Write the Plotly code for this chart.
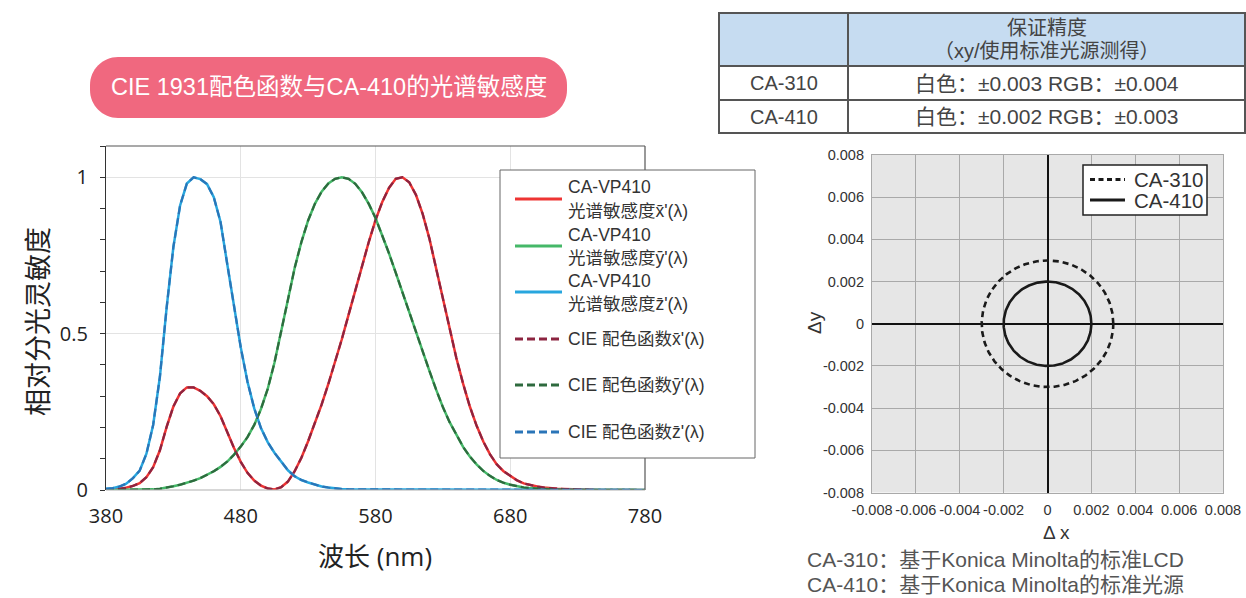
import numpy as np
import plotly.graph_objects as go

W, H = 1246, 598

# ---------------- data ----------------
wavelength = list(range(380, 785, 5))

cie_x = [0.001, 0.002, 0.004, 0.007, 0.013, 0.022, 0.041, 0.073, 0.127, 0.202,
         0.267, 0.309, 0.328, 0.328, 0.317, 0.300, 0.274, 0.236, 0.184, 0.134,
         0.090, 0.055, 0.030, 0.014, 0.005, 0.002, 0.009, 0.027, 0.060, 0.103,
         0.156, 0.213, 0.273, 0.339, 0.408, 0.482, 0.560, 0.639, 0.717, 0.793,
         0.863, 0.921, 0.966, 0.995, 1.000, 0.984, 0.944, 0.883, 0.804, 0.707,
         0.605, 0.510, 0.422, 0.340, 0.267, 0.206, 0.155, 0.114, 0.082, 0.060,
         0.044, 0.031, 0.021, 0.015, 0.011, 0.008, 0.005, 0.004, 0.003, 0.002,
         0.001, 0.001, 0.001, 0.000, 0.000, 0.000, 0.000, 0.000, 0.000, 0.000,
         0.000]

cie_y = [0.000, 0.000, 0.000, 0.000, 0.000, 0.001, 0.001, 0.002, 0.004, 0.007,
         0.012, 0.017, 0.023, 0.030, 0.038, 0.048, 0.060, 0.074, 0.091, 0.113,
         0.139, 0.169, 0.208, 0.259, 0.323, 0.407, 0.503, 0.608, 0.710, 0.793,
         0.862, 0.915, 0.954, 0.980, 0.995, 1.000, 0.995, 0.979, 0.952, 0.915,
         0.870, 0.816, 0.757, 0.695, 0.631, 0.567, 0.503, 0.441, 0.381, 0.321,
         0.265, 0.217, 0.175, 0.138, 0.107, 0.082, 0.061, 0.045, 0.032, 0.023,
         0.017, 0.012, 0.008, 0.006, 0.004, 0.003, 0.002, 0.001, 0.001, 0.001,
         0.001, 0.000, 0.000, 0.000, 0.000, 0.000, 0.000, 0.000, 0.000, 0.000,
         0.000]

cie_z = [0.004, 0.006, 0.011, 0.020, 0.038, 0.062, 0.116, 0.208, 0.362, 0.583,
         0.777, 0.910, 0.980, 1.000, 0.994, 0.978, 0.936, 0.857, 0.722, 0.584,
         0.456, 0.346, 0.261, 0.198, 0.153, 0.119, 0.089, 0.063, 0.044, 0.032,
         0.024, 0.017, 0.011, 0.008, 0.005, 0.003, 0.002, 0.002, 0.001, 0.001,
         0.001, 0.001, 0.001, 0.001, 0.000, 0.000, 0.000, 0.000, 0.000, 0.000,
         0.000, 0.000, 0.000, 0.000, 0.000, 0.000, 0.000, 0.000, 0.000, 0.000,
         0.000, 0.000, 0.000, 0.000, 0.000, 0.000, 0.000, 0.000, 0.000, 0.000,
         0.000, 0.000, 0.000, 0.000, 0.000, 0.000, 0.000, 0.000, 0.000, 0.000,
         0.000]

# CA-VP410 measured sensitivities coincide with the CIE curves in the picture
vp410_x = list(cie_x)
vp410_y = list(cie_y)
vp410_z = list(cie_z)

spectral_names = [
    ["CA-VP410", "光谱敏感度x\u0304'(λ)"],
    ["CA-VP410", "光谱敏感度y\u0304'(λ)"],
    ["CA-VP410", "光谱敏感度z\u0304'(λ)"],
    ["CIE 配色函数x\u0304'(λ)"],
    ["CIE 配色函数y\u0304'(λ)"],
    ["CIE 配色函数z\u0304'(λ)"],
]
spectral_colors = ["#ee3433", "#45b868", "#27a6de", "#8c2440", "#2e6a3e", "#2a75b8"]
spectral_dash = ["solid", "solid", "solid", "8px,4px", "8px,4px", "8px,4px"]

wl_ticks = [380, 480, 580, 680, 780]
sens_ticks = [0, 0.5, 1]
sens_ticktext = ["0", "0.5", "1"]

accuracy_models = ["CA-310", "CA-410"]
accuracy_radius = [0.003, 0.002]
accuracy_dash = ["6px,4px", "solid"]

delta_ticks = [-0.008, -0.006, -0.004, -0.002, 0, 0.002, 0.004, 0.006, 0.008]
delta_ticktext = ["-0.008", "-0.006", "-0.004", "-0.002", "0", "0.002", "0.004", "0.006", "0.008"]

table_header = ["", "保证精度", "（xy/使用标准光源测得）"]
table_models = ["CA-310", "CA-410"]
table_values = ["白色：±0.003 RGB：±0.004", "白色：±0.002 RGB：±0.003"]

title_text = "CIE 1931配色函数与CA-410的光谱敏感度"
footnotes = ["CA-310：基于Konica Minolta的标准LCD", "CA-410：基于Konica Minolta的标准光源"]

# ---------------- helpers ----------------
def PX(px):
    return px / W

def PY(py):
    return 1 - py / H

CJK = "Noto Sans CJK SC"
SANS = "Liberation Sans, Arial, " + CJK
OPEN = "Open Sans, " + CJK

fig = go.Figure()

# spectral curves: solid first, dashed on top
series = [vp410_x, vp410_y, vp410_z, cie_x, cie_y, cie_z]
for vals, col, dash, nm in zip(series, spectral_colors, spectral_dash, spectral_names):
    fig.add_trace(go.Scatter(
        x=wavelength, y=vals, mode="lines", name=" ".join(nm),
        line=dict(color=col, width=2.5 if dash == "solid" else 2.2, dash=dash),
        showlegend=False, xaxis="x", yaxis="y", hoverinfo="skip"))

# accuracy circles
theta = np.linspace(0, 2 * np.pi, 361)
for nm, r, dash in zip(accuracy_models, accuracy_radius, accuracy_dash):
    fig.add_trace(go.Scatter(
        x=r * np.cos(theta), y=r * np.sin(theta), mode="lines", name=nm,
        line=dict(color="#1a1a1a", width=2.6, dash=dash),
        showlegend=False, xaxis="x2", yaxis="y2", hoverinfo="skip"))

shapes = []
annotations = []

# right chart grey background
shapes.append(dict(type="rect", xref="x2 domain", yref="y2 domain", x0=0, x1=1, y0=0, y1=1,
                   fillcolor="#e6e6e6", line=dict(width=0), layer="below"))

# left chart frame (top/right dark, bottom light)
shapes.append(dict(type="line", xref="x domain", yref="y domain", x0=0, x1=1, y0=1, y1=1,
                   line=dict(color="#555555", width=1.2)))
shapes.append(dict(type="line", xref="x domain", yref="y domain", x0=1, x1=1, y0=0, y1=1,
                   line=dict(color="#555555", width=1.2)))
shapes.append(dict(type="line", xref="x domain", yref="y domain", x0=0, x1=1, y0=0, y1=0,
                   line=dict(color="#b0b0b0", width=1.2)))

# title pill (pixel-sized path centred on anchor)
hw, hh, r = 238.5, 30.5, 28
k = r * 0.552
pill = (f"M {-hw + r},{-hh} L {hw - r},{-hh} C {hw - r + k},{-hh} {hw},{-hh + r - k} {hw},{-hh + r} "
        f"L {hw},{hh - r} C {hw},{hh - r + k} {hw - r + k},{hh} {hw - r},{hh} "
        f"L {-hw + r},{hh} C {-hw + r - k},{hh} {-hw},{hh - r + k} {-hw},{hh - r} "
        f"L {-hw},{-hh + r} C {-hw},{-hh + r - k} {-hw + r - k},{-hh} {-hw + r},{-hh} Z")
shapes.append(dict(type="path", xref="paper", yref="paper", xsizemode="pixel", ysizemode="pixel",
                   xanchor=PX(328.5), yanchor=PY(87.5), path=pill,
                   fillcolor="#f0687f", line=dict(width=0)))
annotations.append(dict(x=PX(329), y=PY(87), xref="paper", yref="paper", text=title_text,
                        showarrow=False, font=dict(family=SANS, size=23.5, color="white"),
                        xanchor="center", yanchor="middle"))

# left manual legend
lx0, lx1, ly0, ly1 = 500, 755, 170, 458
shapes.append(dict(type="rect", xref="paper", yref="paper", x0=PX(lx0), x1=PX(lx1),
                   y0=PY(ly1), y1=PY(ly0), fillcolor="white", line=dict(color="#666666", width=1)))
line_ys = [199, 246, 292, 339, 385, 432]
for nm, col, dash, yy in zip(spectral_names, spectral_colors, spectral_dash, line_ys):
    shapes.append(dict(type="line", xref="paper", yref="paper", x0=PX(515), x1=PX(562),
                       y0=PY(yy), y1=PY(yy), line=dict(color=col, width=3, dash=dash)))
    if len(nm) == 2:
        tys = [yy - 11.5, yy + 11.5]
    else:
        tys = [yy]
    for t, ty in zip(nm, tys):
        annotations.append(dict(x=PX(566), y=PY(ty), xref="paper", yref="paper", text=t,
                                showarrow=False, xanchor="left", yanchor="middle",
                                font=dict(family=SANS, size=17.5, color="#333333")))

# right manual legend
rx0, rx1, ry0, ry1 = 1083, 1207, 165, 215
shapes.append(dict(type="rect", xref="paper", yref="paper", x0=PX(rx0), x1=PX(rx1),
                   y0=PY(ry1), y1=PY(ry0), fillcolor="white", line=dict(color="#222222", width=1.5)))
for nm, dash, yy in zip(accuracy_models, accuracy_dash, [179.5, 200]):
    shapes.append(dict(type="line", xref="paper", yref="paper", x0=PX(1090), x1=PX(1125),
                       y0=PY(yy), y1=PY(yy),
                       line=dict(color="#1a1a1a", width=3, dash="5px,3.5px" if dash != "solid" else "solid")))
    annotations.append(dict(x=PX(1132), y=PY(yy), xref="paper", yref="paper", text=nm,
                            showarrow=False, xanchor="left", yanchor="middle",
                            font=dict(family=SANS, size=20.5, color="#333333")))

# left axis titles
annotations.append(dict(x=PX(36), y=PY(322), xref="paper", yref="paper", text="相对分光灵敏度",
                        textangle=-90, showarrow=False, xanchor="center", yanchor="middle",
                        font=dict(family=CJK, size=27, color="#222222")))
annotations.append(dict(x=PX(375), y=PY(556), xref="paper", yref="paper", text="波长 (nm)",
                        showarrow=False, xanchor="center", yanchor="middle",
                        font=dict(family=OPEN, size=26, color="#222222")))

# right axis titles
annotations.append(dict(x=PX(1056), y=PY(532), xref="paper", yref="paper", text="Δ x",
                        showarrow=False, xanchor="center", yanchor="middle",
                        font=dict(family=SANS, size=19, color="#333333")))
annotations.append(dict(x=PX(814), y=PY(323), xref="paper", yref="paper", text="Δy",
                        textangle=-90, showarrow=False, xanchor="center", yanchor="middle",
                        font=dict(family=SANS, size=19, color="#333333")))

# footnotes
for t, yy in zip(footnotes, [559, 584]):
    annotations.append(dict(x=PX(805), y=PY(yy), xref="paper", yref="paper", text=t,
                            showarrow=False, xanchor="left", yanchor="middle",
                            font=dict(family=SANS, size=21, color="#555555")))

# table
tx0, tx1, tc, ty0, ty1, ty2, ty3 = 719, 1245, 848, 13, 66, 100, 133
shapes.append(dict(type="rect", xref="paper", yref="paper", x0=PX(tx0), x1=PX(tx1),
                   y0=PY(ty1), y1=PY(ty0), fillcolor="#c6dcf1", line=dict(width=0)))
bc = dict(color="#555555", width=2)
shapes.append(dict(type="rect", xref="paper", yref="paper", x0=PX(tx0), x1=PX(tx1),
                   y0=PY(ty3), y1=PY(ty0), line=bc))
for yy in [ty1, ty2]:
    shapes.append(dict(type="line", xref="paper", yref="paper", x0=PX(tx0), x1=PX(tx1),
                       y0=PY(yy), y1=PY(yy), line=bc))
shapes.append(dict(type="line", xref="paper", yref="paper", x0=PX(tc), x1=PX(tc),
                   y0=PY(ty3), y1=PY(ty0), line=bc))
cx_val = (tc + tx1) / 2
annotations.append(dict(x=PX(cx_val), y=PY(28), xref="paper", yref="paper", text=table_header[1],
                        showarrow=False, xanchor="center", yanchor="middle",
                        font=dict(family=SANS, size=20, color="#444444")))
annotations.append(dict(x=PX(cx_val), y=PY(51), xref="paper", yref="paper", text=table_header[2],
                        showarrow=False, xanchor="center", yanchor="middle",
                        font=dict(family=SANS, size=20, color="#444444")))
for m, v, yy in zip(table_models, table_values, [83, 117]):
    annotations.append(dict(x=PX((tx0 + tc) / 2), y=PY(yy), xref="paper", yref="paper", text=m,
                            showarrow=False, xanchor="center", yanchor="middle",
                            font=dict(family=SANS, size=20, color="#444444")))
    annotations.append(dict(x=PX(cx_val), y=PY(yy), xref="paper", yref="paper", text=v,
                            showarrow=False, xanchor="center", yanchor="middle",
                            font=dict(family=SANS, size=21, color="#444444")))

fig.update_layout(
    width=W, height=H,
    margin=dict(l=0, r=0, t=0, b=0, autoexpand=False),
    paper_bgcolor="white", plot_bgcolor="rgba(0,0,0,0)",
    shapes=shapes, annotations=annotations,
    xaxis=dict(domain=[PX(106), PX(645)], range=[380, 780], tickvals=wl_ticks,
               showgrid=True, gridcolor="#e3e3e3", gridwidth=1, zeroline=False,
               showline=False, ticks="", ticklabelstandoff=12, automargin=False,
               tickfont=dict(family=OPEN, size=20, color="#222222"), anchor="y", fixedrange=True),
    yaxis=dict(domain=[PY(490), PY(146)], range=[0, 1.1], tickvals=sens_ticks, ticktext=sens_ticktext,
               showgrid=True, gridcolor="#e3e3e3", gridwidth=1, zeroline=False,
               showline=True, linecolor="#333333", linewidth=1.3, automargin=False,
               ticks="outside", ticklen=5, tickcolor="#333333", ticklabelstandoff=8,
               minor=dict(dtick=0.1, tick0=0, ticks="outside", ticklen=5, tickcolor="#333333", showgrid=False),
               tickfont=dict(family=OPEN, size=20, color="#222222"), anchor="x", fixedrange=True),
    xaxis2=dict(domain=[PX(872), PX(1223)], range=[-0.008, 0.008], tickvals=delta_ticks,
                ticktext=delta_ticktext, showgrid=True, gridcolor="#a9a9a9", gridwidth=1.2,
                zeroline=True, zerolinecolor="#111111", zerolinewidth=2.2, automargin=False,
                showline=True, mirror=True, linecolor="#a9a9a9", linewidth=1.2, ticks="",
                ticklabelstandoff=4,
                tickfont=dict(family=SANS, size=14.5, color="#333333"), anchor="y2", fixedrange=True),
    yaxis2=dict(domain=[PY(492.5), PY(155)], range=[-0.008, 0.008], tickvals=delta_ticks,
                ticktext=delta_ticktext, showgrid=True, gridcolor="#a9a9a9", gridwidth=1.2,
                zeroline=True, zerolinecolor="#111111", zerolinewidth=2.2, automargin=False,
                showline=True, mirror=True, linecolor="#a9a9a9", linewidth=1.2, ticks="",
                ticklabelstandoff=4,
                tickfont=dict(family=SANS, size=14.5, color="#333333"), anchor="x2", fixedrange=True),
    showlegend=False,
)

fig.write_html(
    "out.html",
    config={"displayModeBar": False},
    post_script=("document.documentElement.style.margin='0';document.body.style.margin='0';"
                 "document.body.style.padding='0';document.body.style.overflow='hidden';"
                 "document.documentElement.style.overflow='hidden';"),
)
